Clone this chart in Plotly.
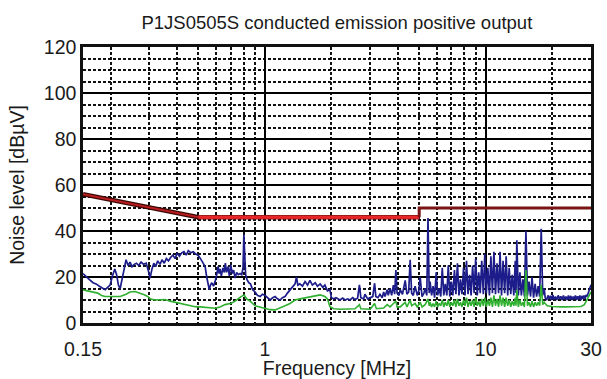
import plotly.graph_objects as go

# ---- data ----
blue_f = [0.150, 0.155, 0.160, 0.1665, 0.172, 0.178, 0.184, 0.189, 0.194, 0.199, 0.204, 0.209, 0.213, 0.217, 0.221,
          0.226, 0.231, 0.235, 0.240, 0.245, 0.250, 0.256, 0.262, 0.268, 0.275, 0.282, 0.290, 0.297, 0.302, 0.308,
          0.314, 0.320, 0.327, 0.335, 0.342, 0.350, 0.358, 0.366, 0.374, 0.383, 0.392, 0.401, 0.410, 0.420, 0.430,
          0.440, 0.450, 0.462, 0.474, 0.486, 0.498, 0.509, 0.522, 0.536, 0.545, 0.553, 0.560, 0.567, 0.575, 0.585,
          0.595, 0.605, 0.614, 0.620, 0.626, 0.635, 0.645, 0.655, 0.662, 0.670, 0.680, 0.690, 0.700, 0.712, 0.722,
          0.733, 0.745, 0.758, 0.772, 0.785, 0.796, 0.803, 0.810, 0.818, 0.830, 0.845, 0.860, 0.880, 0.903, 0.925,
          0.951, 0.975, 1.002, 1.030, 1.056, 1.085, 1.112, 1.140, 1.172, 1.200, 1.234, 1.265, 1.300, 1.340, 1.370,
          1.390, 1.410, 1.440, 1.480, 1.520, 1.560, 1.600, 1.640, 1.690, 1.730, 1.780, 1.830, 1.870, 1.920, 1.970,
          2.000, 2.050, 2.100, 2.190, 2.250, 2.310, 2.370, 2.430, 2.500, 2.560, 2.630, 2.680, 2.720, 2.800, 2.840,
          2.920, 3.000, 3.080, 3.140, 3.180, 3.250, 3.320, 3.400, 3.450, 3.500, 3.580, 3.620, 3.690, 3.750, 3.820,
          3.870, 3.920, 3.970, 4.050, 4.100, 4.200, 4.320, 4.400, 4.480, 4.550, 4.620, 4.700, 4.790, 4.900, 4.980,
          5.050, 5.150, 5.250, 5.320, 5.410, 5.480, 5.550,
          5.60, 5.69, 5.78, 5.87, 5.97, 6.06, 6.16, 6.26, 6.36, 6.46, 6.56, 6.67, 6.77, 6.88, 6.99, 7.10,
          7.22, 7.33, 7.45, 7.57, 7.69, 7.81, 7.94, 8.06, 8.19, 8.32, 8.46, 8.59, 8.73, 8.87, 9.01, 9.16,
          9.30, 9.45, 9.60, 9.76, 9.91, 10.07, 10.23, 10.40, 10.56, 10.73, 10.90, 11.08, 11.26, 11.44,
          11.62, 11.80, 11.99, 12.19, 12.38, 12.58, 12.78, 12.99, 13.19, 13.41, 13.62, 13.72, 13.84, 14.06,
          14.29, 14.51, 14.75, 14.98, 15.22, 15.47, 15.71, 15.97, 16.22, 16.48, 16.75, 17.01, 17.29, 17.56,
          17.85, 18.13, 18.42, 18.60,
          18.9, 19.15, 19.4, 19.65, 19.9, 20.15, 20.4, 20.7, 21.0, 21.3, 21.6, 21.9, 22.2, 22.5, 22.8, 23.1,
          23.4, 23.7, 24.0, 24.3, 24.6, 24.9, 25.2, 25.5, 25.8, 26.1, 26.4, 26.7, 27.0, 27.3, 27.6, 27.9,
          28.2, 28.5, 28.8, 29.2, 29.6, 30.0]
blue_v = [21.5, 20.0, 19.0, 17.5, 17.0, 16.0, 15.0, 14.5, 15.5, 16.5, 20.5, 23.5, 21.0, 16.5, 15.0,
          19.0, 24.0, 27.5, 25.0, 26.5, 24.5, 25.5, 26.0, 25.0, 26.5, 25.5, 26.0, 22.5, 19.5, 23.5,
          26.0, 24.5, 27.0, 25.5, 27.5, 26.0, 28.0, 27.0, 28.5, 29.5, 28.0, 30.5, 29.0, 30.5, 31.0,
          29.5, 31.5, 30.5, 31.0, 30.0, 29.5, 28.2, 26.5, 24.6, 20.0, 15.9, 14.5, 16.5, 17.5, 16.0,
          18.0, 21.0, 24.6, 21.5, 23.5, 20.5, 24.0, 22.0, 26.0, 22.0, 24.5, 20.5, 25.3, 21.5, 23.0,
          19.5, 22.0, 21.0, 21.5, 21.0, 24.0, 38.4, 25.0, 21.0, 18.8, 17.5, 17.0, 14.5, 13.5, 12.0,
          11.5, 12.5, 12.0, 11.0, 10.0, 11.0, 11.5, 10.5, 10.0, 11.0, 11.5, 13.0, 14.5, 16.0, 17.0,
          20.0, 16.5, 17.0, 16.0, 18.0, 16.5, 18.5, 16.5, 17.5, 16.0, 17.0, 15.5, 16.5, 14.0, 14.5,
          11.0, 10.5, 11.0, 10.0, 10.8, 10.0, 10.5, 10.0, 11.0, 10.2, 10.8, 16.6, 11.0, 10.5, 12.5,
          10.5, 11.0, 11.5, 17.3, 11.5, 11.0, 12.5, 11.0, 13.5, 11.5, 14.5, 12.0, 15.0, 12.0, 16.5,
          12.5, 23.0, 13.0, 12.0, 14.5, 12.5, 18.5, 12.5, 13.5, 27.5, 13.0, 12.0, 16.0, 12.0, 14.0,
          20.0, 11.5, 13.0, 15.0, 12.0, 45.7, 13.0,
          18, 12, 16, 11, 22, 12, 15, 11.5, 24, 12, 17, 12, 25, 11.5, 18, 12,
          23, 12.5, 26, 12, 19, 12.5, 24, 12, 27, 12.5, 21, 12, 25, 13, 28, 12,
          22, 13, 27, 12.5, 30, 13, 24, 12, 29, 13, 31, 12.5, 26, 13,
          31, 12, 27, 13, 29, 12, 24, 12.5, 21, 12, 27, 13, 36, 12,
          22, 12, 19, 11.5, 40, 12, 18, 11.5, 20, 11, 17, 11.5, 16, 11.5,
          41, 12, 15, 11,
          10.0, 12.0, 10.5, 11.8, 10.0, 12.2, 10.2, 11.5, 10.0, 12.0, 10.5, 11.6, 10.0, 12.0, 10.3, 11.5,
          10.0, 12.0, 10.2, 11.8, 10.0, 11.5, 10.4, 12.0, 10.0, 11.6, 10.2, 12.0, 10.0, 11.8, 10.5, 12.0,
          10.5, 12.2, 11.5, 13.5, 15.0, 16.6]

green_f = [0.150, 0.158, 0.1665, 0.175, 0.182, 0.189, 0.199, 0.209, 0.221, 0.235, 0.245, 0.258, 0.272, 0.286,
           0.295, 0.302, 0.318, 0.335, 0.353, 0.372, 0.392, 0.413, 0.435, 0.458, 0.483, 0.509, 0.536, 0.564,
           0.595, 0.626, 0.660, 0.703, 0.733, 0.780, 0.805, 0.830, 0.857, 0.903, 0.951, 1.002, 1.056, 1.112,
           1.172, 1.234, 1.30, 1.37, 1.44, 1.52, 1.60, 1.69, 1.78, 1.87, 1.92, 1.97, 2.05, 2.19, 2.43, 2.56,
           2.68, 2.72, 3.00, 3.14, 3.20, 3.45, 3.58, 3.69, 3.82, 3.92, 3.97, 4.10, 4.32, 4.40, 4.55, 4.62,
           4.79, 4.90, 5.05, 5.15, 5.32, 5.48, 5.55,
           5.60, 5.69, 5.78, 5.87, 5.97, 6.06, 6.16, 6.26, 6.36, 6.46, 6.56, 6.67, 6.77, 6.88, 6.99, 7.10,
           7.22, 7.33, 7.45, 7.57, 7.69, 7.81, 7.94, 8.06, 8.19, 8.32, 8.46, 8.59, 8.73, 8.87, 9.01, 9.16,
           9.30, 9.45, 9.60, 9.76, 9.91, 10.07, 10.23, 10.40, 10.56, 10.73, 10.90, 11.08, 11.26, 11.44,
           11.62, 11.80, 11.99, 12.19, 12.38, 12.58, 12.78, 12.99, 13.19, 13.41, 13.62, 13.72, 13.84, 14.06,
           14.29, 14.51, 14.75, 14.98, 15.22, 15.47, 15.71, 15.97, 16.22, 16.48, 16.75, 17.01, 17.29, 17.56,
           17.85, 18.13, 18.42, 18.60,
           19.0, 20.0, 21.0, 22.0, 23.0, 24.0, 25.0, 26.0, 27.0, 28.0, 28.8, 29.5, 30.0]
green_v = [14.4, 14.0, 13.7, 13.0, 12.0, 11.5, 11.5, 11.5, 11.5, 12.5, 13.5, 13.7, 13.0, 12.2,
           11.5, 10.5, 10.0, 10.0, 10.2, 9.5, 9.0, 8.6, 8.0, 7.5, 7.1, 7.0, 6.8, 6.5,
           6.4, 7.0, 8.0, 8.6, 9.5, 11.5, 12.2, 10.3, 9.5, 7.5, 7.0, 6.5, 5.8, 5.7,
           6.5, 7.5, 8.5, 10.0, 10.5, 10.9, 11.2, 11.5, 12.2, 11.5, 10.5, 7.1, 6.2, 6.0, 6.0, 6.2,
           8.0, 6.2, 6.0, 8.5, 6.2, 6.5, 8.0, 7.0, 8.5, 9.5, 7.0, 7.0, 9.0, 7.0, 10.0, 7.5,
           8.5, 7.0, 9.0, 7.0, 8.0, 10.5, 7.5,
           9, 7, 8.5, 7, 9.5, 7, 8.5, 7.5, 10, 7, 9, 7.5, 10, 7, 9, 7.5,
           10, 7, 10.5, 7.5, 9, 7, 10, 7.5, 11, 7, 9.5, 7.5, 10, 7, 11, 7.5,
           9.5, 7, 10.5, 7.5, 11, 7, 10, 7.5, 11, 7, 12, 7.5, 10.5, 7,
           12, 7.5, 11, 7, 11, 7.5, 10, 7, 9.5, 7.5, 11, 7.5, 14.4, 7,
           10, 7.5, 9, 7, 23, 7.5, 9, 7, 9.5, 7, 9, 7.5, 9, 7.5,
           16.6, 8, 9, 8.5,
           7.5, 7.2, 7.0, 7.0, 7.0, 7.0, 7.0, 7.1, 7.2, 8.0, 10.0, 12.0, 13.5]

limit_f1 = [0.15, 0.5]
limit_v1 = [56, 46]
limit_f2 = [0.5, 5]
limit_v2 = [46, 46]
limit_f3 = [5, 5, 30]
limit_v3 = [46, 50, 50]

x_ticks = [0.15, 1, 10, 30]
x_ticktext = ["0.15", "1", "10", "30"]
x_minor = [0.2, 0.3, 0.4, 0.5, 0.6, 0.7, 0.8, 0.9, 2, 3, 4, 5, 6, 7, 8, 9, 20]
y_ticks = [0, 20, 40, 60, 80, 100, 120]
y_minor = [5, 10, 15, 25, 30, 35, 45, 50, 55, 65, 70, 75, 85, 90, 95, 105, 110, 115]

FONT = "Liberation Sans, Arial, sans-serif"

fig = go.Figure()
fig.add_trace(go.Scatter(x=blue_f, y=blue_v, mode="lines",
                         line=dict(color="#1c1c8a", width=1.7), showlegend=False))
fig.add_trace(go.Scatter(x=green_f, y=green_v, mode="lines",
                         line=dict(color="#30b030", width=1.6), showlegend=False))
# limit line
fig.add_trace(go.Scatter(x=limit_f1, y=limit_v1, mode="lines",
                         line=dict(color="#3a0808", width=4.5), showlegend=False))
fig.add_trace(go.Scatter(x=limit_f1, y=limit_v1, mode="lines",
                         line=dict(color="#b81c1c", width=2.0), showlegend=False))
fig.add_trace(go.Scatter(x=limit_f2, y=limit_v2, mode="lines",
                         line=dict(color="#8b1515", width=4.5), showlegend=False))
fig.add_trace(go.Scatter(x=limit_f2, y=limit_v2, mode="lines",
                         line=dict(color="#e82828", width=3.0), showlegend=False))
fig.add_trace(go.Scatter(x=limit_f3, y=limit_v3, mode="lines",
                         line=dict(color="#7a1515", width=3.0), showlegend=False))

fig.update_layout(
    width=607, height=379,
    margin=dict(l=83, r=16, t=47, b=56),
    paper_bgcolor="white", plot_bgcolor="white",
    font=dict(family=FONT, color="#1a1a1a", size=19),
    title=dict(text="P1JS0505S conducted emission positive output",
               font=dict(family=FONT, size=18.5, color="#1a1a1a"),
               x=0.555, xanchor="center", y=0.940, yanchor="middle"),
)
fig.update_xaxes(
    type="log", range=[-0.8239, 1.4771],
    tickmode="array", tickvals=x_ticks, ticktext=x_ticktext,
    showgrid=True, gridcolor="#000000", gridwidth=2,
    minor=dict(tickmode="array", tickvals=x_minor, showgrid=True,
               gridcolor="#111111", gridwidth=1.5, griddash="3px,2px"),
    showline=True, linecolor="#111111", linewidth=2.5, mirror=True,
    ticks="", zeroline=False, automargin=False,
    ticklabelstandoff=7,
    tickfont=dict(size=19.5),
    title=dict(text="Frequency [MHz]", font=dict(size=19.5), standoff=5),
)
fig.update_yaxes(
    range=[0, 120],
    tickmode="array", tickvals=y_ticks,
    showgrid=True, gridcolor="#000000", gridwidth=2,
    minor=dict(tickmode="array", tickvals=y_minor, showgrid=True,
               gridcolor="#111111", gridwidth=1.5, griddash="3px,2px"),
    showline=True, linecolor="#111111", linewidth=2.5, mirror=True,
    ticks="", zeroline=False, automargin=False,
    tickfont=dict(size=19.5),
    title=dict(text="Noise level [dBµV]", font=dict(size=19.5), standoff=14),
)

fig.write_html("out.html")
